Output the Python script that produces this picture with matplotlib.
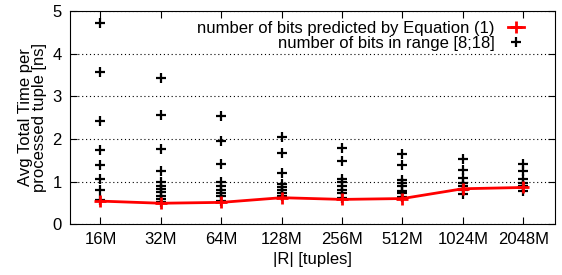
import matplotlib.pyplot as plt
import numpy as np

plt.rcParams['font.family'] = ['Liberation Sans', 'DejaVu Sans']

# |R| sizes on the x axis
sizes = ['16M', '32M', '64M', '128M', '256M', '512M', '1024M', '2048M']

# time with the number of bits predicted by Equation (1)
predicted = [0.54, 0.49, 0.51, 0.62, 0.58, 0.60, 0.83, 0.86]

# times for every number of bits in range [8;18], per size
in_range = [
    [4.73, 3.58, 2.41, 1.73, 1.39, 1.06, 0.80, 0.56],
    [3.42, 2.57, 1.76, 1.24, 0.98, 0.90, 0.82, 0.75, 0.67, 0.60, 0.52],
    [2.54, 1.95, 1.40, 0.98, 0.90, 0.80, 0.72, 0.65, 0.55],
    [2.05, 1.66, 1.19, 0.95, 0.88, 0.80, 0.72, 0.65],
    [1.78, 1.49, 1.06, 0.98, 0.90, 0.80, 0.72, 0.62],
    [1.64, 1.38, 1.03, 0.97, 0.90, 0.78, 0.72, 0.63],
    [1.52, 1.28, 1.09, 0.97, 0.90, 0.70, 0.80],
    [1.42, 1.24, 1.07, 0.97, 0.90, 0.78, 0.88],
]

fig, ax = plt.subplots(figsize=(5.62, 2.75), dpi=100)
fig.subplots_adjust(left=0.125, right=0.987, top=0.96, bottom=0.185)

x = np.arange(len(sizes))
for i, vals in enumerate(in_range):
    ax.plot([x[i]] * len(vals), vals, linestyle='none', marker='+',
            color='black', markersize=7, markeredgewidth=1.6, zorder=3)
pts, = ax.plot([], [], linestyle='none', marker='+', color='black',
               markersize=7, markeredgewidth=1.6)
line, = ax.plot(x, predicted, color='red', linewidth=2, marker='+',
                markersize=8, markeredgewidth=2, zorder=4)

ax.set_xlim(-0.5, 7.52)
ax.set_ylim(0, 5)
ax.set_xticks(x)
ax.set_xticklabels(sizes)
ax.set_yticks([0, 1, 2, 3, 4, 5])
ax.tick_params(direction='in', top=True, right=True, labelsize=12, length=5,
               pad=6)
ax.yaxis.grid(True, linestyle=(0, (1, 2.5)), color='black', linewidth=0.8)
ax.set_xlabel('|R| [tuples]', fontsize=12, labelpad=3)
ax.set_ylabel('Avg Total Time per\nprocessed tuple [ns]', fontsize=12,
              linespacing=0.95, labelpad=4)

leg1 = ax.legend([line], ['number of bits predicted by Equation (1)'],
                 loc='upper right', bbox_to_anchor=(0.96, 1.01),
                 frameon=False, markerfirst=False, fontsize=12,
                 handlelength=0.95, handletextpad=0.8, borderpad=0.2)
ax.add_artist(leg1)
ax.legend([pts], ['number of bits in range [8;18]'],
          loc='upper right', bbox_to_anchor=(0.96, 0.938),
          frameon=False, markerfirst=False, fontsize=12,
          handlelength=0.95, handletextpad=0.8, borderpad=0.2)

fig.savefig('out.png')
